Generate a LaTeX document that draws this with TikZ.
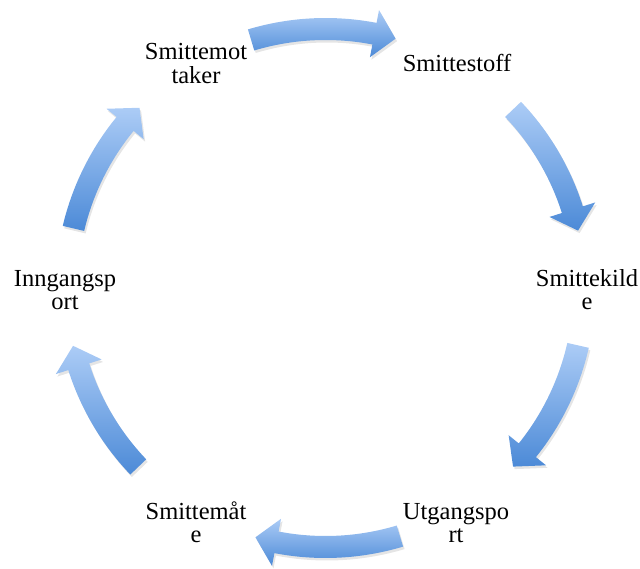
\documentclass[tikz,border=0pt]{standalone}
\usepackage{fontspec}
\setmainfont{Liberation Serif}
\usetikzlibrary{calc}
\definecolor{arrlight}{RGB}{172,204,246}
\definecolor{arrdark}{RGB}{76,138,215}
\tikzset{
  lbl/.style={anchor=base, inner sep=0pt, font=\fontsize{24.5}{23}\selectfont},
  cyc/.style={top color=arrlight, bottom color=arrdark, draw=none,
    preaction={fill=black, opacity=0.10, transform canvas={shift={(1.5pt,-2.5pt)}}}}
}
\newcommand{\cycarrow}[2]{%
  \pgfmathsetmacro\sA{#1+#2}%
  \pgfmathsetmacro\tA{#1-#2}%
  \pgfmathsetmacro\bA{#1-#2+4.8}%
  \path[cyc] (\sA:270) arc[start angle=\sA, end angle=\bA, radius=270]
    -- (\bA:283) -- (\tA:259) -- (\bA:235) -- (\bA:248)
    arc[start angle=\bA, end angle=\sA, radius=248] -- cycle;
}
\newcommand{\lbltwo}[2]{\begin{tabular}[t]{@{}c@{}}#1\\#2\end{tabular}}
\begin{document}
\begin{tikzpicture}[x=1pt,y=1pt]
\useasboundingbox (0,0) rectangle (640,568);
\coordinate (C) at (325.5,280);
\begin{scope}[shift={(C)}]
  \cycarrow{90.5}{16.2}
  \cycarrow{28.2}{15.4}
  \cycarrow{-28.2}{15.4}
  \cycarrow{-89.5}{16.2}
  \cycarrow{208.3}{15.4}
  \cycarrow{151.3}{15.4}
\end{scope}
\renewcommand{\arraystretch}{1}
\node[lbl] (mottaker) at (196,508) {\lbltwo{Smittemot}{taker}};
\node[lbl] (stoff) at (457,496) {Smittestoff};
\node[lbl] (kilde) at (587,281) {\lbltwo{Smittekild}{e}};
\node[lbl] (inngang) at (65,281) {\lbltwo{Inngangsp}{ort}};
\node[lbl] (maate) at (196,48.5) {\lbltwo{Smittemåt}{e}};
\node[lbl] (utgang) at (456,48.5) {\lbltwo{Utgangspo}{rt}};
\end{tikzpicture}
\end{document}
